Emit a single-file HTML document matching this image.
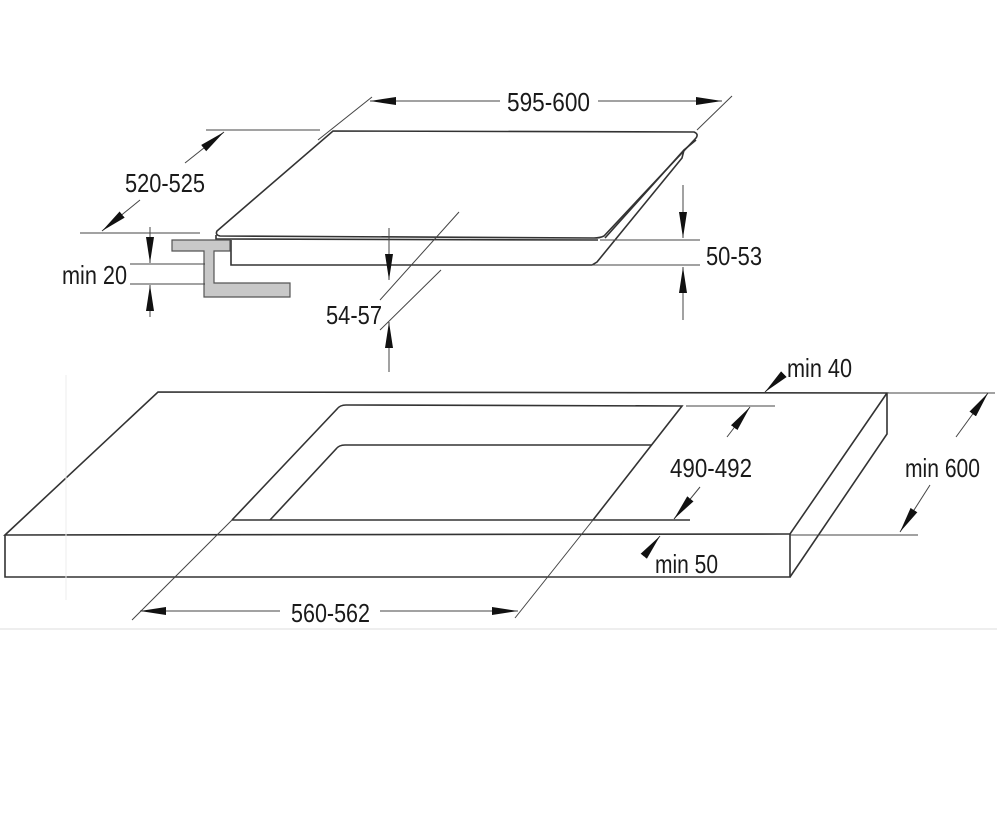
<!DOCTYPE html>
<html><head><meta charset="utf-8"><style>
html,body{margin:0;padding:0;background:#fff;}
svg{display:block;}
text{font-family:"Liberation Sans",Arial,sans-serif;font-size:26px;fill:#1a1a1a;}
</style></head><body>
<svg width="997" height="831" viewBox="0 0 997 831" xmlns="http://www.w3.org/2000/svg">
<defs>
<marker id="a" viewBox="0 0 26 10" refX="26" refY="5" markerWidth="26" markerHeight="10" markerUnits="userSpaceOnUse" orient="auto">
<path d="M0,1 L26,5 L0,9 Z" fill="#111"/>
</marker>
</defs>
<g fill="none" stroke="#333" stroke-width="1.6">
<path d="M333,131 L694,132 Q699,134 696,138 L604,236 Q600,238 594,238 L220,236 Q215,235 217,231 Z"/>
<path d="M216,235 L216,239 L598,240"/>
<path d="M696,140 L684,150 L605,238"/>
<path d="M684,150 L682,158 L597,262 L592,265 L231,265 L231,240"/>
</g>
<path d="M172,240 L230,240 L230,251 L214,251 L214,283 L290,283 L290,297 L204,297 L204,251 L172,251 Z" fill="#c8c8c8" stroke="#555" stroke-width="1.2"/>
<g fill="none" stroke="#444" stroke-width="1">
<line x1="372" y1="97" x2="318" y2="140"/>
<line x1="732" y1="96" x2="697" y2="130"/>
<line x1="500" y1="101" x2="370" y2="101" marker-end="url(#a)"/>
<line x1="598" y1="101" x2="722" y2="101" marker-end="url(#a)"/>
<line x1="206" y1="130" x2="320" y2="130"/>
<line x1="80" y1="233" x2="200" y2="233"/>
<line x1="185" y1="163" x2="224" y2="132" marker-end="url(#a)"/>
<line x1="140" y1="200" x2="102" y2="231" marker-end="url(#a)"/>
<line x1="130" y1="264" x2="205" y2="264"/>
<line x1="130" y1="284" x2="205" y2="284"/>
<line x1="150" y1="227" x2="150" y2="263" marker-end="url(#a)"/>
<line x1="150" y1="317" x2="150" y2="285" marker-end="url(#a)"/>
<line x1="600" y1="240" x2="700" y2="240"/>
<line x1="592" y1="265" x2="700" y2="265"/>
<line x1="683" y1="185" x2="683" y2="238" marker-end="url(#a)"/>
<line x1="683" y1="320" x2="683" y2="267" marker-end="url(#a)"/>
<line x1="459" y1="212" x2="380" y2="300"/>
<line x1="441" y1="270" x2="380" y2="330"/>
<line x1="389" y1="228" x2="389" y2="280" marker-end="url(#a)"/>
<line x1="389" y1="372" x2="389" y2="322" marker-end="url(#a)"/>
</g>
<g fill="none" stroke="#333" stroke-width="1.6">
<path d="M158,392 L887,393 L790,534 L5,535 Z"/>
<path d="M5,535 L5,577 L790,577 L790,534"/>
<path d="M887,393 L887,434 L790,577"/>
<path d="M232,520 L337,409 Q340,405 346,405 L682,406 L593,520"/>
<path d="M270,520 L336,449 Q339,445 345,445 L652,445"/>
<line x1="232" y1="520" x2="690" y2="520"/>
</g>
<g fill="none" stroke="#444" stroke-width="1">
<line x1="593" y1="520" x2="515" y2="618"/>
<line x1="232" y1="520" x2="132" y2="620"/>
<line x1="280" y1="611" x2="140" y2="611" marker-end="url(#a)"/>
<line x1="380" y1="611" x2="518" y2="611" marker-end="url(#a)"/>
<line x1="686" y1="406" x2="775" y2="406"/>
<line x1="727" y1="437" x2="750" y2="407" marker-end="url(#a)"/>
<line x1="700" y1="487" x2="674" y2="519" marker-end="url(#a)"/>
<line x1="887" y1="393" x2="995" y2="393"/>
<line x1="790" y1="535" x2="918" y2="535"/>
<line x1="956" y1="437" x2="988" y2="393" marker-end="url(#a)"/>
<line x1="930" y1="485" x2="900" y2="532" marker-end="url(#a)"/>
<line x1="783" y1="375" x2="765" y2="392" marker-end="url(#a)"/>
<line x1="644" y1="556" x2="660" y2="536" marker-end="url(#a)"/>
</g>
<line x1="66" y1="375" x2="66" y2="600" stroke="#eee" stroke-width="1"/>
<line x1="0" y1="629" x2="997" y2="629" stroke="#eee" stroke-width="2"/>
<text x="507" y="111" textLength="83" lengthAdjust="spacingAndGlyphs">595-600</text>
<text x="125" y="192" textLength="80" lengthAdjust="spacingAndGlyphs">520-525</text>
<text x="62" y="284" textLength="65" lengthAdjust="spacingAndGlyphs">min 20</text>
<text x="706" y="265" textLength="56" lengthAdjust="spacingAndGlyphs">50-53</text>
<text x="326" y="324" textLength="56" lengthAdjust="spacingAndGlyphs">54-57</text>
<text x="787" y="377" textLength="65" lengthAdjust="spacingAndGlyphs">min 40</text>
<text x="670" y="477" textLength="82" lengthAdjust="spacingAndGlyphs">490-492</text>
<text x="905" y="477" textLength="75" lengthAdjust="spacingAndGlyphs">min 600</text>
<text x="655" y="573" textLength="63" lengthAdjust="spacingAndGlyphs">min 50</text>
<text x="291" y="622" textLength="79" lengthAdjust="spacingAndGlyphs">560-562</text>
</svg>
</body></html>
